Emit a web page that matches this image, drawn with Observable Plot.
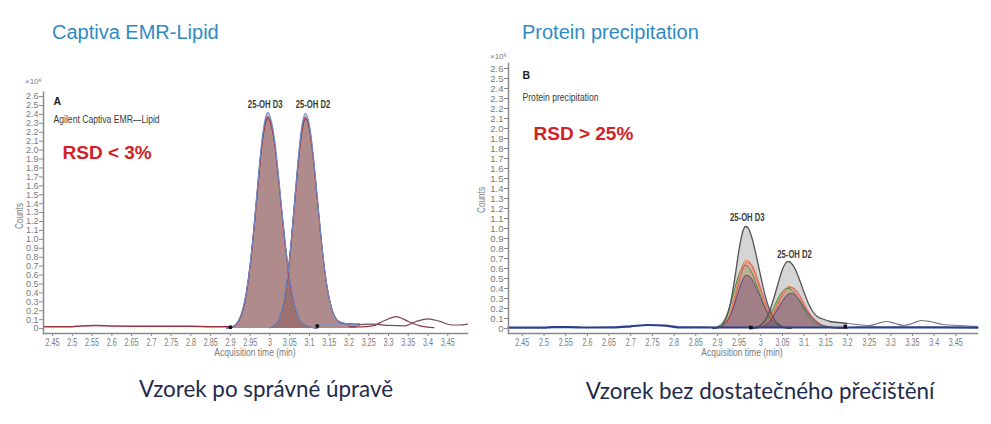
<!DOCTYPE html>
<html><head><meta charset="utf-8">
<script src="https://cdn.jsdelivr.net/npm/d3@7"></script>
<script src="https://cdn.jsdelivr.net/npm/@observablehq/plot@0.6"></script>
<style>
body{margin:0;background:#fff;width:991px;height:424px;position:relative;overflow:hidden;}
.abs{position:absolute;white-space:nowrap;}
.title{font-family:"Liberation Sans",Arial,sans-serif;font-size:20px;line-height:20px;color:#2f8ac4;}
.cap{font-family:Lato,"Open Sans",sans-serif;font-size:22.4px;line-height:22.4px;color:#1f2b4d;transform:translateX(-50%);}
.small{font-family:"Liberation Sans",Arial,sans-serif;color:#7a7a7a;}
.exp{font-size:8px;line-height:8px;}
.ylab{font-size:10px;line-height:10px;transform:translate(-50%,-50%) rotate(-90deg) scaleX(0.82);}
.xlab{font-size:10px;line-height:10px;transform:translate(-50%,-50%) scaleX(0.85);}
svg{overflow:visible}
</style></head><body>
<div class="abs title" style="left:52px;top:22px">Captiva EMR-Lipid</div>
<div class="abs title" style="left:522px;top:22px">Protein precipitation</div>
<div id="left" class="abs" style="left:0;top:30px"></div>
<div id="right" class="abs" style="left:470px;top:30px"></div>
<div class="abs small exp" style="left:25px;top:78px">×10⁶</div>
<div class="abs small exp" style="left:490px;top:53px">×10⁶</div>
<div class="abs small ylab" style="left:20px;top:216px">Counts</div>
<div class="abs small ylab" style="left:482px;top:200px">Counts</div>
<div class="abs small xlab" style="left:255px;top:353px">Acquisition time (min)</div>
<div class="abs small xlab" style="left:742px;top:353px">Acquisition time (min)</div>
<div class="abs cap" style="left:266px;top:378px">Vzorek po správné úpravě</div>
<div class="abs cap" style="left:760px;top:380px">Vzorek bez dostatečného přečištění</div>
<script>
// ---------- axis ticks ----------
const xTicks = [2.45, 2.5, 2.55, 2.6, 2.65, 2.7, 2.75, 2.8, 2.85, 2.9, 2.95, 3, 3.05, 3.1, 3.15, 3.2, 3.25, 3.3, 3.35, 3.4, 3.45];
const yTicks = [0, 0.1, 0.2, 0.3, 0.4, 0.5, 0.6, 0.7, 0.8, 0.9, 1.0, 1.1, 1.2, 1.3, 1.4, 1.5, 1.6, 1.7, 1.8, 1.9, 2.0, 2.1, 2.2, 2.3, 2.4, 2.5, 2.6];

// ---------- panel A: Captiva EMR-Lipid (counts x10^6) ----------
const leftBaseTime  = [2.427, 2.50, 2.52, 2.56, 2.60, 2.70, 2.80, 2.85, 2.90];
const leftBaseValue = [0.02, 0.02, 0.03, 0.035, 0.03, 0.025, 0.025, 0.02, 0.02];

const leftD3Time  = [2.89, 2.90, 2.92, 2.94, 2.95, 2.96, 2.97, 2.98, 2.99, 2.995, 3.00, 3.01, 3.02, 3.03, 3.04, 3.05, 3.06, 3.07, 3.08, 3.10, 3.12];
const leftD3Blue  = [0.005, 0.011, 0.085, 0.40, 0.72, 1.16, 1.66, 2.11, 2.38, 2.42, 2.38, 2.17, 1.79, 1.33, 0.91, 0.56, 0.31, 0.15, 0.07, 0.02, 0.005];
const leftD3Red   = [0.005, 0.010, 0.080, 0.39, 0.71, 1.14, 1.63, 2.08, 2.34, 2.38, 2.34, 2.14, 1.76, 1.31, 0.89, 0.55, 0.31, 0.15, 0.07, 0.02, 0.005];
const leftD3Brown = [0.005, 0.010, 0.080, 0.38, 0.70, 1.13, 1.62, 2.06, 2.32, 2.36, 2.32, 2.12, 1.75, 1.30, 0.89, 0.54, 0.30, 0.15, 0.07, 0.02, 0.005];

const leftD2Time  = [3.00, 3.02, 3.03, 3.04, 3.05, 3.06, 3.07, 3.08, 3.09, 3.10, 3.11, 3.12, 3.13, 3.14, 3.15, 3.16, 3.17, 3.18, 3.20, 3.22];
const leftD2Blue  = [0.01, 0.08, 0.20, 0.43, 0.80, 1.30, 1.82, 2.24, 2.41, 2.28, 1.93, 1.47, 1.00, 0.61, 0.34, 0.17, 0.09, 0.07, 0.05, 0.045];
const leftD2Red   = [0.01, 0.08, 0.20, 0.42, 0.79, 1.28, 1.79, 2.20, 2.37, 2.25, 1.90, 1.45, 0.99, 0.60, 0.34, 0.17, 0.09, 0.06, 0.05, 0.045];
const leftD2Brown = [0.01, 0.07, 0.19, 0.41, 0.78, 1.27, 1.77, 2.18, 2.35, 2.23, 1.89, 1.44, 0.98, 0.60, 0.34, 0.18, 0.10, 0.07, 0.05, 0.045];

const leftBarTime  = [3.12, 3.225];
const leftBarValue = [0.045, 0.045];
const leftWiggleATime  = [3.20, 3.23, 3.26, 3.29, 3.32, 3.35, 3.38, 3.415];
const leftWiggleAValue = [0.02, 0.02, 0.03, 0.09, 0.135, 0.08, 0.03, 0.01];
const leftWiggleBTime  = [3.225, 3.26, 3.30, 3.34, 3.37, 3.40, 3.43, 3.46, 3.48, 3.50];
const leftWiggleBValue = [0.045, 0.05, 0.035, 0.03, 0.08, 0.11, 0.08, 0.04, 0.04, 0.05];
const leftMarkTime  = [2.90, 3.12];
const leftMarkValue = [0.015, 0.03];
const leftLabels     = ["25-OH D3", "25-OH D2"];
const leftLabelTime  = [2.988, 3.109];
const leftLabelValue = [2.47, 2.47];

// ---------- panel B: Protein precipitation (counts x10^6) ----------
const rightBaseTime  = [2.418, 2.50, 2.52, 2.56, 2.60, 2.66, 2.70, 2.74, 2.78, 2.81, 2.90, 3.00, 3.10, 3.20, 3.30, 3.40, 3.50];
const rightBaseValue = [0.008, 0.008, 0.014, 0.014, 0.01, 0.012, 0.022, 0.035, 0.028, 0.012, 0.01, 0.01, 0.01, 0.01, 0.012, 0.012, 0.008];

const rightD3Time   = [2.89, 2.90, 2.91, 2.92, 2.93, 2.94, 2.95, 2.96, 2.965, 2.97, 2.98, 2.99, 3.00, 3.01, 3.02, 3.03, 3.04, 3.05, 3.07];
const rightD3Gray   = [0, 0.01, 0.03, 0.10, 0.25, 0.50, 0.79, 0.99, 1.02, 1.01, 0.90, 0.72, 0.52, 0.33, 0.19, 0.10, 0.045, 0.02, 0.005];
const rightD3Orange = [0, 0.01, 0.025, 0.07, 0.17, 0.33, 0.52, 0.65, 0.68, 0.68, 0.62, 0.50, 0.37, 0.24, 0.14, 0.08, 0.04, 0.02, 0.005];
const rightD3Red    = [0, 0.005, 0.02, 0.05, 0.13, 0.28, 0.46, 0.61, 0.65, 0.66, 0.63, 0.53, 0.40, 0.27, 0.16, 0.09, 0.045, 0.02, 0.005];
const rightD3Green  = [0.005, 0.02, 0.05, 0.12, 0.24, 0.40, 0.54, 0.62, 0.63, 0.62, 0.55, 0.44, 0.32, 0.21, 0.12, 0.06, 0.03, 0.01, 0];
const rightD3Purple = [0, 0.005, 0.02, 0.06, 0.13, 0.25, 0.39, 0.50, 0.53, 0.53, 0.49, 0.40, 0.30, 0.20, 0.12, 0.07, 0.035, 0.015, 0];

const rightD2Time   = [2.98, 2.99, 3.00, 3.01, 3.02, 3.03, 3.04, 3.05, 3.06, 3.065, 3.07, 3.08, 3.09, 3.10, 3.11, 3.12, 3.13, 3.14, 3.16, 3.18, 3.20];
const rightD2Gray   = [0, 0.013, 0.035, 0.08, 0.17, 0.30, 0.45, 0.59, 0.665, 0.67, 0.655, 0.59, 0.48, 0.36, 0.25, 0.17, 0.12, 0.10, 0.07, 0.06, 0.05];
const rightD2Orange = [0, 0.008, 0.02, 0.05, 0.10, 0.18, 0.27, 0.36, 0.41, 0.42, 0.415, 0.38, 0.31, 0.23, 0.16, 0.10, 0.06, 0.035, 0.015, 0.005, 0];
const rightD2Red    = [0, 0.005, 0.015, 0.04, 0.08, 0.15, 0.24, 0.33, 0.39, 0.41, 0.41, 0.39, 0.33, 0.25, 0.17, 0.11, 0.07, 0.04, 0.015, 0.005, 0];
const rightD2Green  = [0.005, 0.015, 0.03, 0.07, 0.13, 0.21, 0.30, 0.37, 0.40, 0.40, 0.39, 0.34, 0.27, 0.19, 0.12, 0.07, 0.04, 0.02, 0.01, 0, 0];
const rightD2Purple = [0, 0.005, 0.015, 0.035, 0.07, 0.13, 0.20, 0.27, 0.33, 0.345, 0.35, 0.33, 0.28, 0.21, 0.15, 0.10, 0.06, 0.035, 0.015, 0.005, 0];

const rightGrayTailTime  = [3.20, 3.22, 3.25, 3.27, 3.29, 3.31, 3.33, 3.35, 3.37, 3.39, 3.42, 3.46, 3.50];
const rightGrayTailValue = [0.05, 0.04, 0.03, 0.05, 0.07, 0.05, 0.03, 0.05, 0.08, 0.07, 0.04, 0.03, 0.02];
const rightMarkTime  = [2.977, 3.195];
const rightMarkValue = [0.01, 0.02];
const rightLabels     = ["25-OH D3", "25-OH D2"];
const rightLabelTime  = [2.969, 3.078];
const rightLabelValue = [1.08, 0.71];

// ---------- helpers ----------
const rows = (t, v) => t.map((x, i) => ({t: x, v: v[i]}));
const labelRows = (t, v, s) => t.map((x, i) => ({t: x, v: v[i], s: s[i]}));
const sans = '"Liberation Sans",Arial,sans-serif';
const curve = "monotone-x";
const xFmt = d => String(d);
const yFmt = d => d === 0 ? "0" : d.toFixed(1);

function area(t, v, fill, fillOpacity) {
  return Plot.areaY(rows(t, v), {x: "t", y: "v", fill, fillOpacity, curve});
}
function line(t, v, stroke, strokeWidth) {
  return Plot.lineY(rows(t, v), {x: "t", y: "v", stroke, strokeWidth, curve});
}
function axes(yFont) {
  return [
    Plot.frame({anchor: "bottom", stroke: "#8a8a8a", strokeWidth: 1.5}),
    Plot.frame({anchor: "left", stroke: "#8a8a8a", strokeWidth: 1.5}),
    Plot.axisX({ticks: xTicks, tickFormat: xFmt, tickSize: 3, tickPadding: 2, fontSize: 10, label: null, stroke: "#8a8a8a", fill: "#7a7a7a"}),
    Plot.axisY({ticks: yTicks, tickFormat: yFmt, tickSize: 4, tickPadding: 1, fontSize: yFont, label: null, stroke: "#8a8a8a", fill: "#7a7a7a"})
  ];
}
// horizontally condense text elements (imitates the condensed instrument font)
function condense(nodes, s) {
  nodes.forEach(el => {
    const x = parseFloat(el.getAttribute("x")) || 0;
    const t = el.getAttribute("transform") || "";
    el.setAttribute("transform", `${t} translate(${x},0) scale(${s},1) translate(${-x},0)`);
  });
}
function textsByContent(svg, strings) {
  return [...svg.querySelectorAll("text")].filter(el => strings.includes(el.textContent));
}

// ---------- panel A ----------
const left = Plot.plot({
  width: 490, height: 330, marginLeft: 43, marginRight: 23, marginTop: 61.6, marginBottom: 27,
  style: {fontFamily: sans, color: "#7a7a7a", background: "transparent", overflow: "visible"},
  x: {domain: [2.427, 3.5]},
  y: {domain: [-0.055, 2.65]},
  marks: [
    area(leftD3Time, leftD3Blue, "#9aa3b8", 0.4),
    area(leftD3Time, leftD3Red, "#b04a58", 0.33),
    area(leftD3Time, leftD3Brown, "#8a6252", 0.42),
    area(leftD2Time, leftD2Blue, "#9aa3b8", 0.4),
    area(leftD2Time, leftD2Red, "#b04a58", 0.33),
    area(leftD2Time, leftD2Brown, "#8a6252", 0.42),
    line(leftBaseTime, leftBaseValue, "#a0303f", 1.5),
    Plot.lineY(rows(leftBarTime, leftBarValue), {x: "t", y: "v", stroke: "#8e98b2", strokeWidth: 3}),
    line(leftWiggleATime, leftWiggleAValue, "#8a3a4a", 1.2),
    line(leftWiggleBTime, leftWiggleBValue, "#7a4a55", 1.2),
    line(leftD3Time, leftD3Brown, "#6a3a3a", 1),
    line(leftD3Time, leftD3Red, "#c0304a", 1),
    line(leftD3Time, leftD3Blue, "#6b8cc7", 1.2),
    line(leftD2Time, leftD2Brown, "#6a3a3a", 1),
    line(leftD2Time, leftD2Red, "#c0304a", 1),
    line(leftD2Time, leftD2Blue, "#6b8cc7", 1.2),
    Plot.dot(rows(leftMarkTime, leftMarkValue), {x: "t", y: "v", r: 2, fill: "#111"}),
    ...axes(9),
    Plot.text(labelRows(leftLabelTime, leftLabelValue, leftLabels), {x: "t", y: "v", text: "s", lineAnchor: "bottom", fontSize: 11, fontWeight: "bold", fill: "#3a3a3a"}),
    Plot.text(["A"], {frameAnchor: "top-left", dx: 10, dy: 5.5, fontSize: 10.5, fontWeight: "bold", fill: "#222"}),
    Plot.text(["Agilent Captiva EMR—Lipid"], {frameAnchor: "top-left", dx: 10, dy: 23.5, fontSize: 10.5, fill: "#3a3a3a"}),
    Plot.text(["RSD < 3%"], {frameAnchor: "top-left", dx: 19, dy: 53.4, fontSize: 19, fontWeight: "bold", fill: "#d42027"})
  ]
});
condense([...left.querySelectorAll('g[aria-label="x-axis tick label"] text')], 0.72);
condense(textsByContent(left, leftLabels), 0.7);
condense(textsByContent(left, ["Agilent Captiva EMR—Lipid"]), 0.82);
document.getElementById("left").append(left);

// ---------- panel B ----------
const right = Plot.plot({
  width: 521, height: 330, marginLeft: 38, marginRight: 14, marginTop: 33, marginBottom: 27,
  style: {fontFamily: sans, color: "#7a7a7a", background: "transparent", overflow: "visible"},
  x: {domain: [2.418, 3.5]},
  y: {domain: [-0.05, 2.65]},
  marks: [
    area(rightD3Time, rightD3Gray, "#b9b9b9", 0.6),
    area(rightD2Time, rightD2Gray, "#b9b9b9", 0.6),
    area(rightD3Time, rightD3Orange, "#eda060", 0.3),
    area(rightD2Time, rightD2Orange, "#eda060", 0.3),
    area(rightD3Time, rightD3Red, "#e07070", 0.3),
    area(rightD2Time, rightD2Red, "#e07070", 0.3),
    area(rightD3Time, rightD3Green, "#7fae7f", 0.3),
    area(rightD2Time, rightD2Green, "#7fae7f", 0.3),
    area(rightD3Time, rightD3Purple, "#7a4a78", 0.45),
    area(rightD2Time, rightD2Purple, "#7a4a78", 0.45),
    line(rightD3Time, rightD3Green, "#3f8f3f", 1),
    line(rightD2Time, rightD2Green, "#3f8f3f", 1),
    line(rightD3Time, rightD3Orange, "#e08040", 1),
    line(rightD2Time, rightD2Orange, "#e08040", 1),
    line(rightD3Time, rightD3Red, "#e05a6a", 1),
    line(rightD2Time, rightD2Red, "#e05a6a", 1),
    line(rightD3Time, rightD3Purple, "#6a4a7a", 1),
    line(rightD2Time, rightD2Purple, "#6a4a7a", 1),
    line(rightD3Time, rightD3Gray, "#555", 1.3),
    line(rightD2Time, rightD2Gray, "#555", 1.3),
    line(rightGrayTailTime, rightGrayTailValue, "#777", 1.2),
    line(rightBaseTime, rightBaseValue, "#2a3f8f", 2.2),
    Plot.dot(rows(rightMarkTime, rightMarkValue), {x: "t", y: "v", r: 2, symbol: "square", fill: "#111"}),
    ...axes(9.5),
    Plot.text(labelRows(rightLabelTime, rightLabelValue, rightLabels), {x: "t", y: "v", text: "s", lineAnchor: "bottom", fontSize: 11, fontWeight: "bold", fill: "#3a3a3a"}),
    Plot.text(["B"], {frameAnchor: "top-left", dx: 14, dy: 7.7, fontSize: 10.5, fontWeight: "bold", fill: "#222"}),
    Plot.text(["Protein precipitation"], {frameAnchor: "top-left", dx: 14, dy: 30, fontSize: 10.5, fill: "#3a3a3a"}),
    Plot.text(["RSD > 25%"], {frameAnchor: "top-left", dx: 25, dy: 63, fontSize: 19, fontWeight: "bold", fill: "#d42027"})
  ]
});
condense([...right.querySelectorAll('g[aria-label="x-axis tick label"] text')], 0.72);
condense(textsByContent(right, rightLabels), 0.7);
condense(textsByContent(right, ["Protein precipitation"]), 0.82);
document.getElementById("right").append(right);
</script>
</body></html>
